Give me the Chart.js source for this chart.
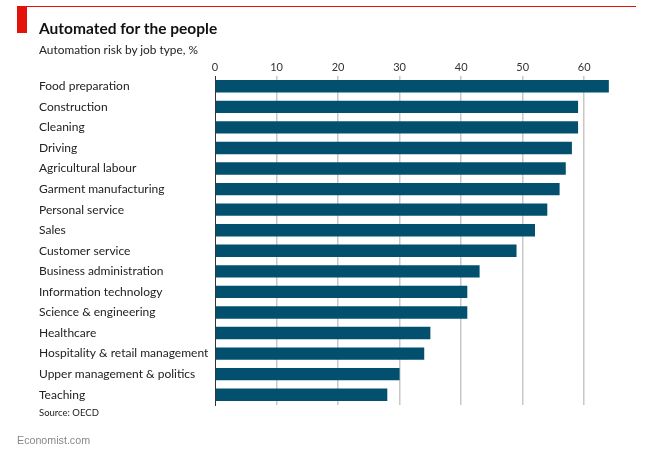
<!DOCTYPE html>
<html>
<head>
<meta charset="utf-8">
<script src="https://cdn.jsdelivr.net/npm/chart.js@4/dist/chart.umd.min.js"></script>
<style>
  html, body { margin:0; padding:0; background:#fff; }
  #wrap { position:relative; width:655px; height:468px; overflow:hidden; }
  canvas { position:absolute; left:0; top:0; }
  .t { position:absolute; white-space:nowrap; }
</style>
</head>
<body>
<div id="wrap">
  <canvas id="c" width="655" height="468"></canvas>
  <div class="t" style="left:17px;top:6px;width:10px;height:27px;background:#e3120b"></div>
  <div class="t" style="left:17px;top:6px;width:619px;height:1px;background:#e3120b"></div>
  <div class="t" style="left:39px;top:19px;font:bold 15.5px Lato;color:#111">Automated for the people</div>
  <div class="t" style="left:39px;top:42px;font:11.85px Lato;color:#222">Automation risk by job type, %</div>
  <div class="t" style="left:39px;top:407px;font:9.5px Lato;color:#222">Source: OECD</div>
  <div class="t" style="left:17px;top:434px;font:10.7px 'Liberation Sans';color:#888">Economist.com</div>
</div>
<script>
const categories = ["Food preparation","Construction","Cleaning","Driving","Agricultural labour","Garment manufacturing","Personal service","Sales","Customer service","Business administration","Information technology","Science & engineering","Healthcare","Hospitality & retail management","Upper management & politics","Teaching"];
const riskValues = [64,59,59,58,57,56,54,52,49,43,41,41,35,34,30,28];
const xTicks = [0,10,20,30,40,50,60];

const labelFont = 'Lato';

new Chart(document.getElementById('c'), {
  type: 'bar',
  data: {
    labels: categories,
    datasets: [{
      data: riskValues,
      backgroundColor: '#03506e',
      borderWidth: 0,
      barPercentage: 0.6,
      categoryPercentage: 1
    }]
  },
  options: {
    indexAxis: 'y',
    responsive: false,
    animation: false,
    devicePixelRatio: 1,
    layout: { padding: { left: 39, right: 40, top: 55, bottom: 63 } },
    plugins: { legend: { display: false }, tooltip: { enabled: false } },
    scales: {
      x: {
        position: 'top',
        min: 0, max: 65,
        afterBuildTicks: s => { s.ticks = xTicks.map(v => ({ value: v })); },
        afterFit: s => { s.height = 21; },
        grid: {
          drawTicks: false,
          color: c => (c.tick && c.tick.value === 0) ? 'rgba(0,0,0,0)' : '#c8c8c8',
          lineWidth: 1.5
        },
        border: { display: false },
        ticks: { padding: 1.5, color: '#333', font: { family: labelFont, size: 11 } }
      },
      y: {
        afterFit: s => { s.width = 176; },
        grid: { display: false, drawTicks: false },
        border: { display: true, color: '#333', width: 1 },
        ticks: { crossAlign: 'far', padding: 0, color: '#222', font: { family: labelFont, size: 12 } }
      }
    }
  }
});
</script>
</body>
</html>
